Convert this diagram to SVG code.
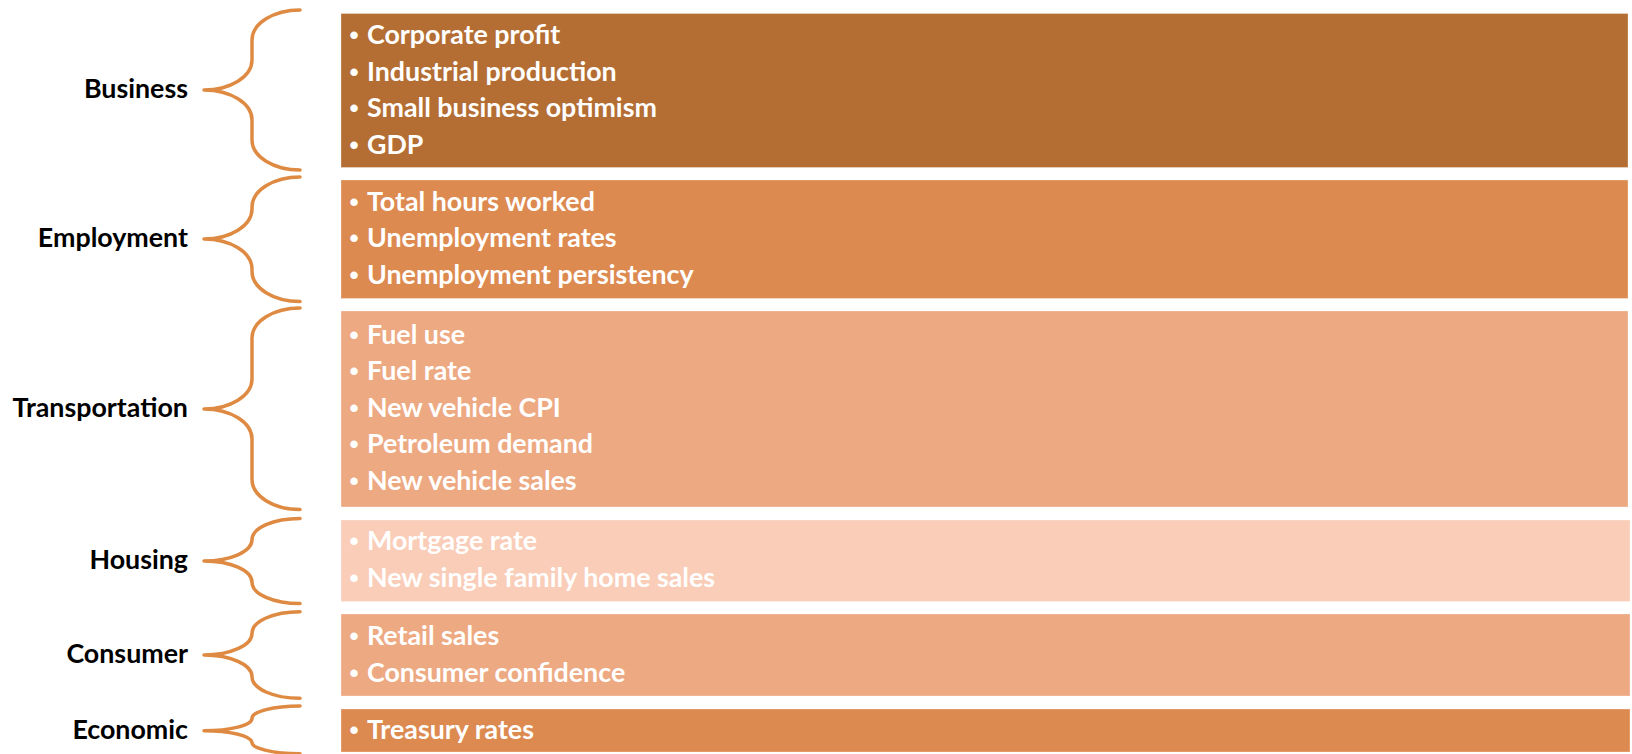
<svg xmlns="http://www.w3.org/2000/svg" width="1632" height="754" viewBox="0 0 1632 754">
  <style>
    .label { font-family: Lato, "Liberation Sans", sans-serif; font-weight: 700; font-size: 26.8px; fill: #000000; text-anchor: end; }
    .item { font-family: Lato, "Liberation Sans", sans-serif; font-weight: 700; font-size: 26.8px; fill: #FFFFFF; }
    .dot { font-family: "Liberation Sans", sans-serif; font-weight: 700; font-size: 26px; fill: #FFFFFF; text-anchor: middle; }
    .brace { fill: none; stroke: #DF8A42; stroke-width: 3.5; stroke-linecap: round; stroke-linejoin: round; }
    .box { stroke: #FFFFFF; stroke-opacity: 0.3; stroke-width: 1; }
    .dark { fill: #B46E33; }
    .mid { fill: #DD8A51; }
    .soft { fill: #EDA982; }
    .pale { fill: #F9CDB8; }
  </style>
  <rect width="1632" height="754" fill="#FFFFFF"/>

  <!-- braces joining each category label to its box -->
  <g id="connectors">
    <path class="brace" d="M300,10 A48,30 0 0 0 252,40 L252,60 A48,30 0 0 1 204,90 A48,30 0 0 1 252,120 L252,140 A48,30 0 0 0 300,170"/>
    <path class="brace" d="M300,177 A48,30 0 0 0 252,207 L252,209 A48,30 0 0 1 204,239 A48,30 0 0 1 252,269 L252,271.5 A48,30 0 0 0 300,301.5"/>
    <path class="brace" d="M300,308 A48,30 0 0 0 252,338 L252,379 A48,30 0 0 1 204,409 A48,30 0 0 1 252,439 L252,479.5 A48,30 0 0 0 300,509.5"/>
    <path class="brace" d="M300,518.5 A48,21.2 0 0 0 252,539.7 L252,539.8 A48,21.2 0 0 1 204,561 A48,21.2 0 0 1 252,582.2 L252,582.3 A48,21.2 0 0 0 300,603.5"/>
    <path class="brace" d="M300,611.7 A48,21.6 0 0 0 252,633.3 L252,633.4 A48,21.6 0 0 1 204,655 A48,21.6 0 0 1 252,676.6 L252,676.7 A48,21.6 0 0 0 300,698.3"/>
    <path class="brace" d="M300,706 A48,12.3 0 0 0 252,718.3 L252,718.4 A48,12.3 0 0 1 204,730.7 A48,12.3 0 0 1 252,742.3 L252,742.4 A48,11.3 0 0 0 300,753.7"/>
  </g>

  <g id="business">
    <text class="label" x="188" y="98">Business</text>
    <rect class="box dark" x="341" y="13.5" width="1287" height="154"/>
    <text class="dot" x="354" y="44">•</text><text class="item" x="367" y="44">Corporate profit</text>
    <text class="dot" x="354" y="80.5">•</text><text class="item" x="367" y="80.5">Industrial production</text>
    <text class="dot" x="354" y="117">•</text><text class="item" x="367" y="117">Small business optimism</text>
    <text class="dot" x="354" y="153.5">•</text><text class="item" x="367" y="153.5">GDP</text>
  </g>

  <g id="employment">
    <text class="label" x="188" y="247">Employment</text>
    <rect class="box mid" x="341" y="180" width="1287" height="118.5"/>
    <text class="dot" x="354" y="210.5">•</text><text class="item" x="367" y="210.5">Total hours worked</text>
    <text class="dot" x="354" y="247">•</text><text class="item" x="367" y="247">Unemployment rates</text>
    <text class="dot" x="354" y="283.5">•</text><text class="item" x="367" y="283.5">Unemployment persistency</text>
  </g>

  <g id="transportation">
    <text class="label" x="188" y="417">Transportation</text>
    <rect class="box soft" x="341" y="311" width="1287" height="196"/>
    <text class="dot" x="354" y="343.5">•</text><text class="item" x="367" y="343.5">Fuel use</text>
    <text class="dot" x="354" y="380">•</text><text class="item" x="367" y="380">Fuel rate</text>
    <text class="dot" x="354" y="416.5">•</text><text class="item" x="367" y="416.5">New vehicle CPI</text>
    <text class="dot" x="354" y="453">•</text><text class="item" x="367" y="453">Petroleum demand</text>
    <text class="dot" x="354" y="489.5">•</text><text class="item" x="367" y="489.5">New vehicle sales</text>
  </g>

  <g id="housing">
    <text class="label" x="188" y="569">Housing</text>
    <rect class="box pale" x="341" y="520" width="1289" height="81.5"/>
    <text class="dot" x="354" y="550">•</text><text class="item" x="367" y="550">Mortgage rate</text>
    <text class="dot" x="354" y="587">•</text><text class="item" x="367" y="587">New single family home sales</text>
  </g>

  <g id="consumer">
    <text class="label" x="188" y="663">Consumer</text>
    <rect class="box soft" x="341" y="614" width="1289" height="82"/>
    <text class="dot" x="354" y="645">•</text><text class="item" x="367" y="645">Retail sales</text>
    <text class="dot" x="354" y="681.5">•</text><text class="item" x="367" y="681.5">Consumer confidence</text>
  </g>

  <g id="economic">
    <text class="label" x="188" y="738.5">Economic</text>
    <rect class="box mid" x="341" y="709" width="1289" height="43"/>
    <text class="dot" x="354" y="738.5">•</text><text class="item" x="367" y="738.5">Treasury rates</text>
  </g>
</svg>
